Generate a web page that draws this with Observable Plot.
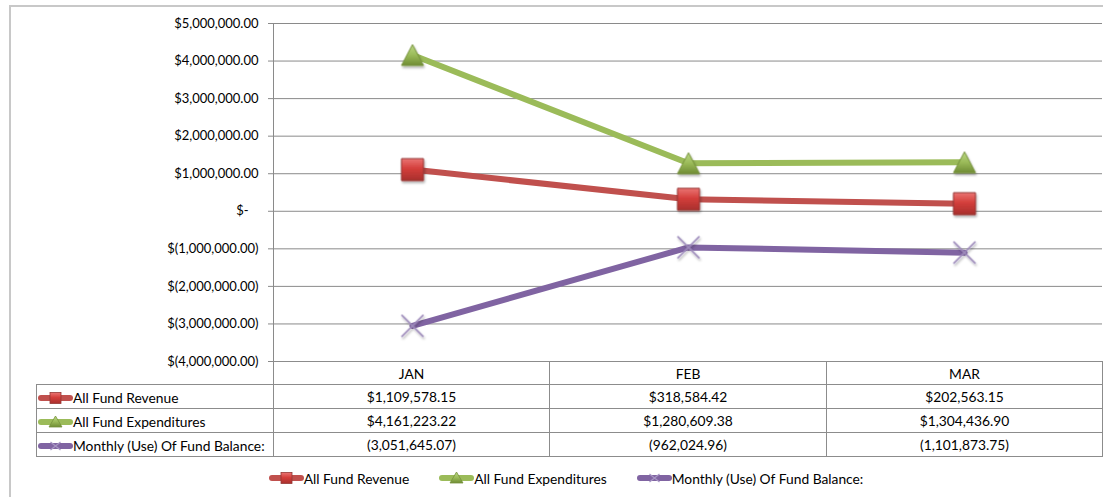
<!DOCTYPE html>
<html><head><meta charset="utf-8">
<script src="https://cdn.jsdelivr.net/npm/d3@7"></script>
<script src="https://cdn.jsdelivr.net/npm/@observablehq/plot@0.6"></script>
<style>
html,body{margin:0;padding:0;background:#fff;overflow:hidden;}
body{width:1103px;height:497px;position:relative;font-family:Lato,sans-serif;font-size:13.8px;color:#000;}
#chartArea{position:absolute;left:9px;top:5px;width:1114px;height:520px;border:2px solid #c8c8c8;box-sizing:border-box;}
#plot{position:absolute;left:0;top:0;}
#tbl{position:absolute;left:36px;top:361px;border-collapse:collapse;table-layout:fixed;font-size:13.8px;}
#tbl td{border:1px solid #8c8c8c;padding:0;text-align:center;white-space:nowrap;overflow:hidden;}
#tbl td.lab{text-align:left;padding-left:1px;}
#tbl td.blank{border-top:none;border-left:none;}
#tbl td .k{display:inline-block;vertical-align:middle;}
#tbl td span.t{vertical-align:middle;}
#legend{position:absolute;left:10px;width:1112px;top:470px;height:16px;display:flex;justify-content:center;align-items:center;gap:30px;font-size:13.8px;}
#legend .item{display:flex;align-items:center;}
</style>
</head><body>
<div id="chartArea"></div>
<div id="plot"></div>
<table id="tbl"></table>
<div id="legend"></div>
<script>
// ---- data ----
const months = ["JAN", "FEB", "MAR"];
const revenue = [1109578.15, 318584.42, 202563.15];
const expenditures = [4161223.22, 1280609.38, 1304436.90];
const balance = [-3051645.07, -962024.96, -1101873.75];
const seriesNames = ["All Fund Revenue", "All Fund Expenditures", "Monthly (Use) Of Fund Balance:"];
const seriesColors = ["#c0504d", "#9bbb59", "#8064a2"];
const yTicks = [-4000000, -3000000, -2000000, -1000000, 0, 1000000, 2000000, 3000000, 4000000, 5000000];

const seriesValues = [revenue, expenditures, balance];
const seriesData = seriesValues.map((vals, s) => months.map((m, i) => ({month: m, value: vals[i], series: seriesNames[s]})));

const f2 = d3.format(",.2f");
const axisFmt = v => v === 0 ? "$-" : v < 0 ? "$(" + f2(-v) + ")" : "$" + f2(v);
const cellFmt = [v => "$" + f2(v), v => "$" + f2(v), v => v < 0 ? "(" + f2(-v) + ")" : f2(v)];

// ---- custom symbols (centered on bounding box) ----
const symSquare = {draw(ctx, size) { const r = Math.sqrt(size / Math.PI); ctx.moveTo(-r, -r); ctx.lineTo(r, -r); ctx.lineTo(r, r); ctx.lineTo(-r, r); ctx.closePath(); }};
const symTriangle = {draw(ctx, size) { const r = Math.sqrt(size / Math.PI); const h = r * 0.95; ctx.moveTo(0, -h); ctx.lineTo(r, h); ctx.lineTo(-r, h); ctx.closePath(); }};
const symX = {draw(ctx, size) { const r = Math.sqrt(size / Math.PI); ctx.moveTo(-r, -r); ctx.lineTo(r, r); ctx.moveTo(r, -r); ctx.lineTo(-r, r); }};

const markerStyles = [
  {symbol: symSquare, r: 11, fill: "url(#gRed)", stroke: "#953735", strokeWidth: 1},
  {symbol: symTriangle, r: 11, fill: "url(#gGreen)", stroke: "#76923c", strokeWidth: 1},
  {symbol: symX, r: 11, fill: "none", stroke: "#9d8bbb", strokeWidth: 1.6}
];

const marks = [
  Plot.gridY(yTicks, {stroke: "#8a8a8a", strokeOpacity: 1}),
  Plot.axisY(yTicks, {tickSize: 5, tickPadding: 10, tickFormat: axisFmt, stroke: "#8a8a8a", label: null}),
  Plot.frame({anchor: "left", stroke: "#8a8a8a"})
];
seriesData.forEach((d, s) => {
  marks.push(Plot.line(d, {x: "month", y: "value", stroke: seriesColors[s], strokeWidth: 6}));
});
seriesData.forEach((d, s) => {
  const m = markerStyles[s];
  marks.push(Plot.dot(d, {x: "month", y: "value", symbol: m.symbol, r: m.r, fill: m.fill, stroke: m.stroke, strokeWidth: m.strokeWidth}));
});

const chart = Plot.plot({
  width: 1103, height: 362,
  marginTop: 23, marginBottom: 1, marginLeft: 273, marginRight: 1,
  x: {type: "point", domain: months, padding: 0.5, axis: null},
  y: {domain: [-4000000, 5000000], axis: null, label: null},
  style: {fontFamily: "Lato, sans-serif", fontSize: "13px", color: "#000", background: "transparent", overflow: "visible"},
  marks
});
document.getElementById("plot").appendChild(chart);

// defs: gradients + shadow
const svg = d3.select(chart);
const defs = svg.insert("defs", ":first-child");
const grads = [
  ["gRed", [["0%", "#ea7573"], ["45%", "#d43e3b"], ["100%", "#a8302d"]]],
  ["gGreen", [["0%", "#bcd886"], ["50%", "#9bbb59"], ["100%", "#6f8c34"]]]
];
grads.forEach(([id, stops]) => {
  const g = defs.append("linearGradient").attr("id", id).attr("x1", 0).attr("y1", 0).attr("x2", 0).attr("y2", 1);
  stops.forEach(([o, c]) => g.append("stop").attr("offset", o).attr("stop-color", c));
});
const flt = defs.append("filter").attr("id", "shadow").attr("x", "-50%").attr("y", "-50%").attr("width", "200%").attr("height", "200%");
flt.append("feDropShadow").attr("dx", 1).attr("dy", 2).attr("stdDeviation", 1.2).attr("flood-color", "#000").attr("flood-opacity", 0.3);
svg.selectAll("g[aria-label='dot']").attr("filter", "url(#shadow)");
// accounting format: "$-" sits left of the other labels
svg.selectAll("g[aria-label='y-axis tick label'] text").each(function() {
  if (this.textContent === "$-") this.setAttribute("dx", "-10");
});

// ---- legend key swatch ----
function keySvg(s) {
  const w = 35, h = 14, cx = w / 2, cy = h / 2;
  let mk = "";
  if (s === 0) mk = `<rect x="${cx - 5.5}" y="${cy - 5.5}" width="11" height="11" fill="url(#gRed)" stroke="#953735" stroke-width="0.8"/>`;
  if (s === 1) mk = `<path d="M${cx},${cy - 6}L${cx + 6.5},${cy + 5}L${cx - 6.5},${cy + 5}Z" fill="url(#gGreen)" stroke="#76923c" stroke-width="0.8"/>`;
  if (s === 2) mk = `<path d="M${cx - 5},${cy - 4}L${cx + 5},${cy + 4}M${cx + 5},${cy - 4}L${cx - 5},${cy + 4}" stroke="#a796c4" stroke-width="1.2"/>`;
  return `<svg class="k" width="${w}" height="${h}" viewBox="0 0 ${w} ${h}"><line x1="3" x2="${w - 3}" y1="${cy}" y2="${cy}" stroke="${seriesColors[s]}" stroke-width="6" stroke-linecap="round"/>${mk}</svg>`;
}

// ---- data table ----
const tbl = document.getElementById("tbl");
const colW = [237, 276, 277, 276];
let html = "<colgroup>" + colW.map(w => `<col style="width:${w}px">`).join("") + "</colgroup>";
html += `<tr style="height:23px"><td class="blank"></td>` + months.map(m => `<td>${m}</td>`).join("") + "</tr>";
seriesNames.forEach((name, s) => {
  html += `<tr style="height:24px"><td class="lab">${keySvg(s)}<span class="t">${name}</span></td>` +
    seriesValues[s].map(v => `<td>${cellFmt[s](v)}</td>`).join("") + "</tr>";
});
tbl.innerHTML = html;

// ---- legend ----
document.getElementById("legend").innerHTML = seriesNames.map((name, s) =>
  `<div class="item">${keySvg(s)}<span>${name}</span></div>`).join("");
</script>
</body></html>
